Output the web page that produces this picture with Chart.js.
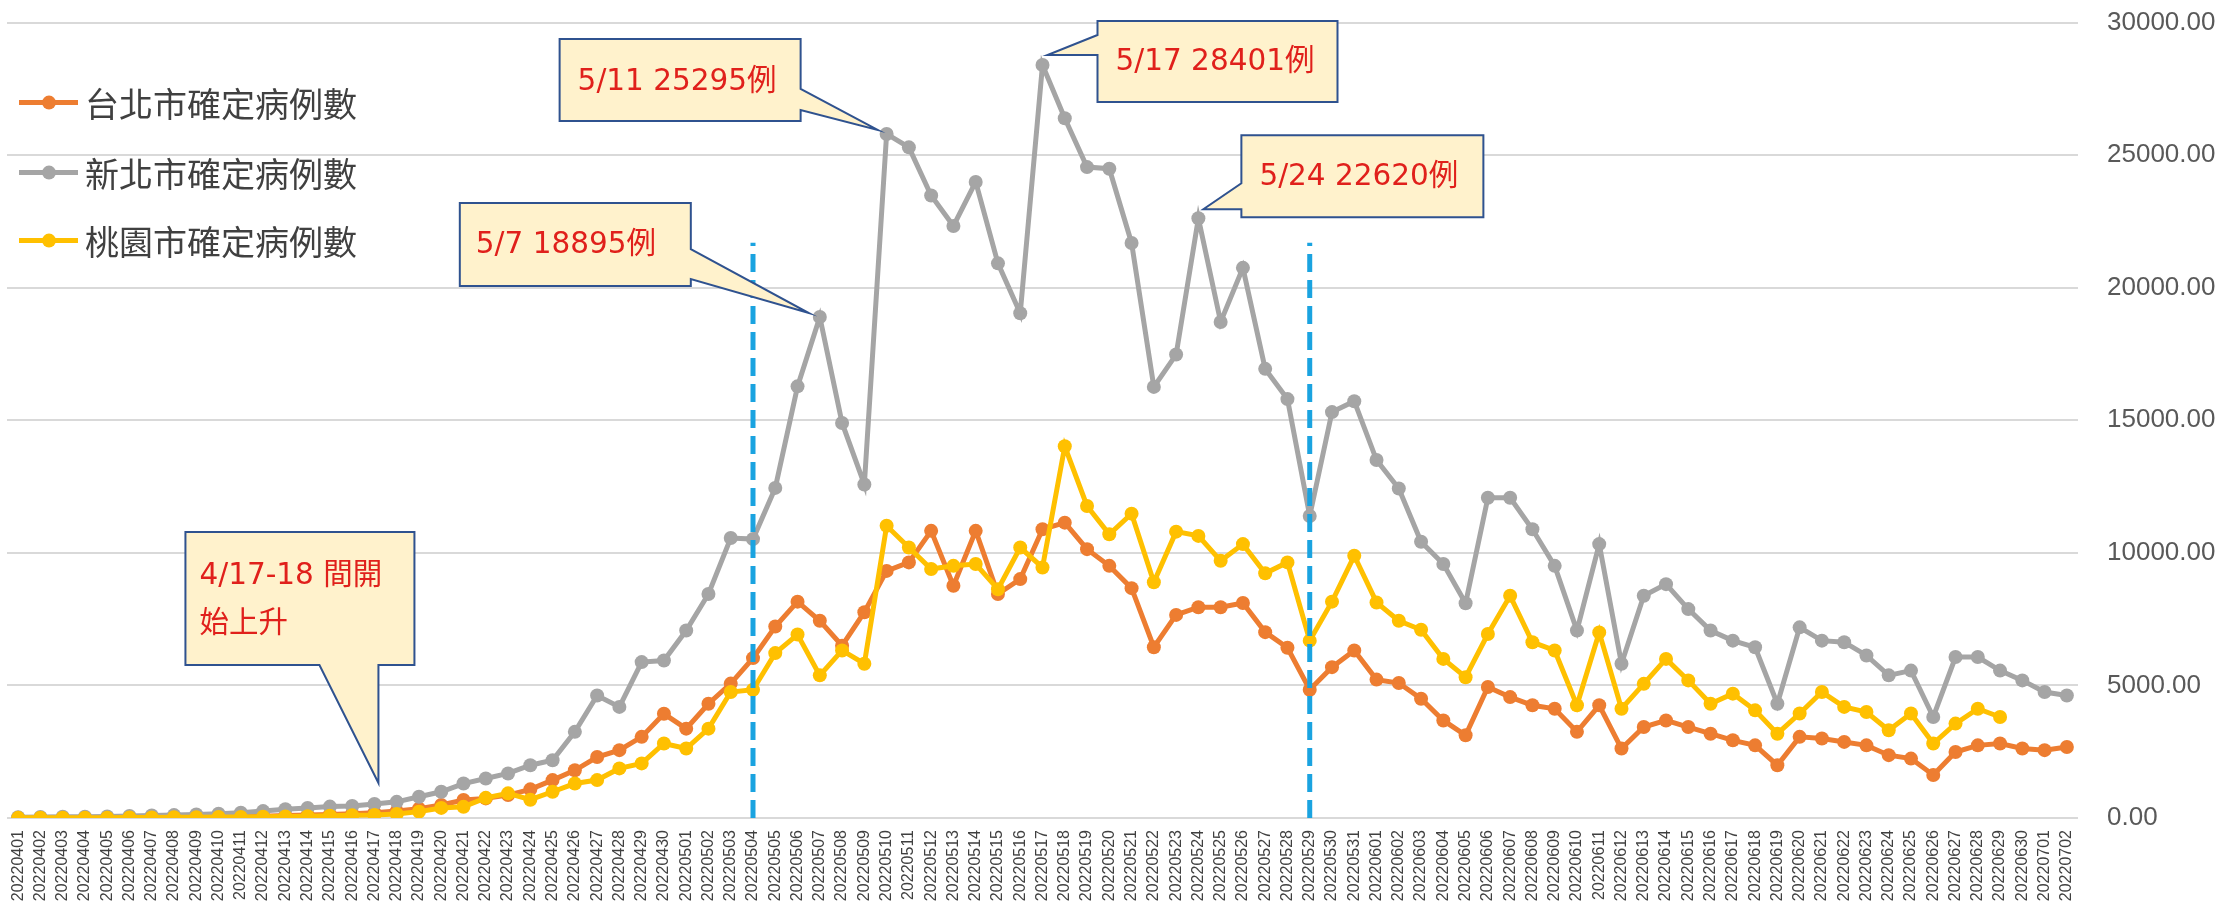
<!DOCTYPE html>
<html><head><meta charset="utf-8">
<script src="https://cdn.jsdelivr.net/npm/chart.js@4.4.1/dist/chart.umd.min.js"></script>
<style>html,body{margin:0;padding:0;background:#fff;overflow:hidden}#wrap{width:2220px;height:903px;position:relative;overflow:hidden}#c{position:absolute;left:0;top:-22px}</style>
</head><body><div id="wrap"><canvas id="c" width="2220" height="925"></canvas></div>
<script>
const dates = ['20220401','20220402','20220403','20220404','20220405','20220406','20220407','20220408','20220409','20220410','20220411','20220412','20220413','20220414','20220415','20220416','20220417','20220418','20220419','20220420','20220421','20220422','20220423','20220424','20220425','20220426','20220427','20220428','20220429','20220430',
'20220501','20220502','20220503','20220504','20220505','20220506','20220507','20220508','20220509','20220510','20220511','20220512','20220513','20220514','20220515','20220516','20220517','20220518','20220519','20220520','20220521','20220522','20220523','20220524','20220525','20220526','20220527','20220528','20220529','20220530','20220531',
'20220601','20220602','20220603','20220604','20220605','20220606','20220607','20220608','20220609','20220610','20220611','20220612','20220613','20220614','20220615','20220616','20220617','20220618','20220619','20220620','20220621','20220622','20220623','20220624','20220625','20220626','20220627','20220628','20220629','20220630',
'20220701','20220702'];

const taipei = [5,8,10,12,15,20,25,30,38,45,55,70,90,110,130,160,200,260,
350,490,680,740,865,1080,1430,1800,2300,2560,3060,3930,
3370,4310,5070,6030,7220,8160,7440,6500,7760,9320,9640,10830,8760,10830,8450,9010,10890,11140,10140,9510,8670,6440,7660,7950,7950,8110,7010,6420,4840,5690,6320,
5220,5090,4500,3680,3120,4940,4560,4250,4120,3250,4250,2620,3430,3680,3430,3180,2930,2740,1990,3060,3000,2870,2740,2370,2240,1620,2490,2740,2810,2620,
2560,2680];

const newTaipei = [30,40,45,50,60,80,95,110,130,160,200,260,330,380,430,450,530,610,
800,990,1300,1490,1680,1990,2180,3250,4620,4190,5880,5940,
7070,8450,10560,10520,12450,16280,18895,14900,12580,25800,25295,23480,22330,23990,20920,19040,28401,26390,24550,24490,21690,16260,17480,22620,18710,20750,16940,15800,11390,15310,15720,
13500,12430,10420,9580,8100,12080,12080,10890,9510,7070,10330,5820,8380,8820,7880,7070,6690,6440,4310,7190,6690,6630,6130,5380,5560,3810,6070,6070,5560,5190,
4750,4620];

const taoyuan = [5,8,10,12,14,18,22,26,30,35,42,50,60,70,85,100,115,150,
240,380,420,760,930,690,990,1300,1430,1870,2060,2810,
2620,3370,4750,4840,6220,6920,5380,6320,5820,11020,10200,9390,9510,9580,8630,10200,9450,14020,11770,10700,11480,8890,10800,10640,9700,10330,9230,9640,6690,8160,9890,
8130,7440,7100,6000,5310,6940,8380,6630,6320,4250,7000,4120,5060,6000,5190,4310,4690,4060,3180,3940,4750,4190,4000,3310,3940,2810,3560,4120,3810,
null,null,null];

const seriesNames = ['台北市確定病例數','新北市確定病例數','桃園市確定病例數'];
const seriesColors = ['#ED7D31','#A5A5A5','#FFC000'];
const yTicks = [0,5000,10000,15000,20000,25000,30000];
const markerDates = ['20220504','20220529'];
const markerTop = 21700;

const seriesByKey = {taipei: taipei, newTaipei: newTaipei, taoyuan: taoyuan};
// annotation callouts anchored on data points (offsets in px from the anchor point)
const callouts = [
  {lines:['5/7 18895例'], series:'newTaipei', date:'20220507', dx:-360, dy:-114, w:231, h:83, side:'right', b0:46, b1:76, tip:[-11,-4], padX:16, lineY:[42]},
  {lines:['5/11 25295例'], series:'newTaipei', date:'20220510', dx:-327, dy:-95, w:241, h:82, side:'right', b0:50, b1:71, tip:[-9,-4], padX:18, lineY:[43]},
  {lines:['5/17 28401例'], series:'newTaipei', date:'20220517', dx:55, dy:-44, w:240, h:81, side:'left', b0:14, b1:34, tip:[5,-10], padX:18, lineY:[41]},
  {lines:['5/24 22620例'], series:'newTaipei', date:'20220524', dx:43, dy:-83, w:242, h:82, side:'left', b0:48, b1:74, tip:[5,-9], padX:18, lineY:[42]},
  {lines:['4/17-18 間開','始上升'], series:'newTaipei', date:'20220417', dx:-189, dy:-272, w:229, h:133, side:'bottom', b0:134, b1:193, tip:[4,-21], padX:14, lineY:[44,92]}
];

const calloutPlugin = {
  id: 'callouts',
  afterDatasetsDraw(chart) {
    const ctx = chart.ctx, xs = chart.scales.x, ys = chart.scales.y;
    callouts.forEach(c => {
      const idx = dates.indexOf(c.date);
      const px = xs.getPixelForValue(idx);
      const py = ys.getPixelForValue(seriesByKey[c.series][idx]);
      const bx = px + c.dx, by = py + c.dy, w = c.w, h = c.h;
      const tx = px + c.tip[0], ty = py + c.tip[1];
      ctx.save();
      ctx.beginPath();
      if (c.side === 'right') {
        ctx.moveTo(bx, by); ctx.lineTo(bx + w, by); ctx.lineTo(bx + w, by + c.b0);
        ctx.lineTo(tx, ty); ctx.lineTo(bx + w, by + c.b1); ctx.lineTo(bx + w, by + h);
        ctx.lineTo(bx, by + h); ctx.closePath();
      } else if (c.side === 'left') {
        ctx.moveTo(bx, by); ctx.lineTo(bx + w, by); ctx.lineTo(bx + w, by + h);
        ctx.lineTo(bx, by + h); ctx.lineTo(bx, by + c.b1); ctx.lineTo(tx, ty);
        ctx.lineTo(bx, by + c.b0); ctx.closePath();
      } else {
        ctx.moveTo(bx, by); ctx.lineTo(bx + w, by); ctx.lineTo(bx + w, by + h);
        ctx.lineTo(bx + c.b1, by + h); ctx.lineTo(tx, ty); ctx.lineTo(bx + c.b0, by + h);
        ctx.lineTo(bx, by + h); ctx.closePath();
      }
      ctx.fillStyle = '#FFF2CC';
      ctx.fill();
      ctx.lineWidth = 2;
      ctx.strokeStyle = '#2F528F';
      ctx.lineJoin = 'miter';
      ctx.stroke();
      ctx.fillStyle = '#E0201B';
      ctx.font = '29.5px "DejaVu Sans", "Noto Sans CJK TC", sans-serif';
      ctx.textBaseline = 'middle';
      ctx.textAlign = 'left';
      c.lines.forEach((t, k) => ctx.fillText(t, bx + c.padX, by + c.lineY[k]));
      ctx.restore();
    });
  }
};

const legendPlugin = {
  id: 'customLegend',
  afterDraw(chart) {
    const ctx = chart.ctx;
    const top = chart.chartArea.top;
    const rows = [80, 150, 218];   // offsets below the top gridline
    ctx.save();
    seriesNames.forEach((name, k) => {
      const y = top + rows[k];
      ctx.strokeStyle = seriesColors[k];
      ctx.lineWidth = 5;
      ctx.beginPath(); ctx.moveTo(19, y); ctx.lineTo(78, y); ctx.stroke();
      ctx.fillStyle = seriesColors[k];
      ctx.beginPath(); ctx.arc(49, y, 7, 0, Math.PI * 2); ctx.fill();
      ctx.fillStyle = '#404040';
      ctx.font = '34px "Noto Sans CJK TC", "Noto Sans", sans-serif';
      ctx.textBaseline = 'middle';
      ctx.textAlign = 'left';
      ctx.fillText(name, 85, y + 1);
    });
    ctx.restore();
  }
};

function lineDs(label, data, color, order) {
  return {label, data, borderColor: color, backgroundColor: color, borderWidth: 5,
    pointRadius: 7, pointHoverRadius: 7, pointBorderWidth: 0, pointBackgroundColor: color,
    tension: 0, order, spanGaps: false};
}

const markerDatasets = markerDates.map(d => ({
  label: 'marker ' + d,
  data: [{x: d, y: 0}, {x: d, y: markerTop}],
  borderColor: '#1AA3E0', borderWidth: 5, borderDash: [18, 8],
  pointRadius: 0, order: -1, tension: 0
}));

new Chart(document.getElementById('c'), {
  type: 'line',
  data: {
    labels: dates,
    datasets: [
      lineDs(seriesNames[0], taipei, seriesColors[0], 2),
      lineDs(seriesNames[1], newTaipei, seriesColors[1], 1),
      lineDs(seriesNames[2], taoyuan, seriesColors[2], 0),
      ...markerDatasets
    ]
  },
  options: {
    responsive: false,
    animation: false,
    events: [],
    layout: {padding: {left: 5, right: 0, top: 5, bottom: 0}},
    plugins: {legend: {display: false}, tooltip: {enabled: false}},
    scales: {
      x: {
        type: 'category',
        offset: true,
        grid: {display: false, drawTicks: false},
        border: {display: false},
        ticks: {autoSkip: false, maxRotation: 90, minRotation: 90, padding: 12,
          color: '#404040', font: {family: '"Liberation Sans", Arial, sans-serif', size: 16}},
        afterFit(s) { s.height = 85; }
      },
      y: {
        position: 'right',
        min: 0, max: 30000,
        afterBuildTicks(s) { s.ticks = yTicks.map(v => ({value: v})); },
        grid: {color: '#D9D9D9', lineWidth: 2, drawTicks: false},
        border: {display: false},
        ticks: {padding: 29, color: '#595959',
          font: {family: '"Liberation Sans", Arial, sans-serif', size: 26},
          callback: v => Number(v).toFixed(2)},
        afterFit(s) { s.width = 142; }
      }
    }
  },
  plugins: [calloutPlugin, legendPlugin]
});
</script></body></html>
